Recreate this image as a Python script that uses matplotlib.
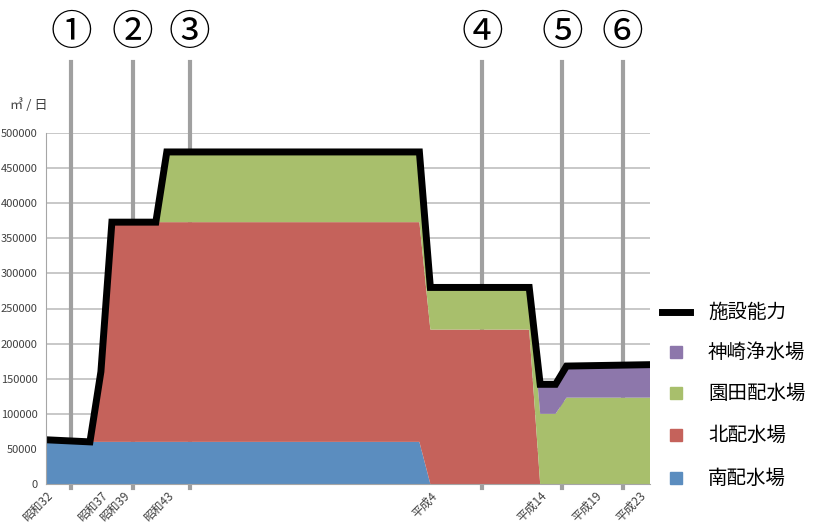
import matplotlib
matplotlib.use("Agg")
import matplotlib.pyplot as plt
from matplotlib.lines import Line2D
from matplotlib.patches import Rectangle

plt.rcParams['font.family'] = ['Noto Sans CJK JP', 'DejaVu Sans']

# breakpoints of the area chart (western years)
years = [1957, 1961, 1962, 1963, 1967, 1968, 1991, 1992, 2001, 2002, 2003.4, 2004.4, 2012]
minami = [60000, 60000, 60000, 60000, 60000, 60000, 60000, 0, 0, 0, 0, 0, 0]
kita = [0, 0, 100000, 313000, 313000, 313000, 313000, 220000, 220000, 0, 0, 0, 0]
sonoda = [0, 0, 0, 0, 0, 100000, 100000, 60000, 60000, 100000, 100000, 123000, 123000]
kanzaki = [0, 0, 0, 0, 0, 0, 0, 0, 0, 42000, 42000, 44000, 44000]
capacity = [63000, 60000, 160000, 373000, 373000, 473000, 473000, 280000, 280000, 142000, 142000, 168000, 170000]

tick_years = [1957, 1962, 1964, 1968, 1992, 2002, 2007, 2011]
tick_labels = ["昭和32", "昭和37", "昭和39", "昭和43", "平成4", "平成14", "平成19", "平成23"]

marker_years = [1959.3, 1964.9, 1970.1, 1996.7, 2004.0, 2009.5]
marker_labels = ["①", "②", "③", "④", "⑤", "⑥"]

series_names = ["南配水場", "北配水場", "園田配水場", "神崎浄水場"]
colors = ["#5b8dbf", "#c5625b", "#a8bf6c", "#8d77ab"]

fig = plt.figure(figsize=(8.13, 5.25), dpi=100)
ax = fig.add_axes([46/813, 41/525, 604/813, 351/525])

ax.stackplot(years, minami, kita, sonoda, kanzaki, colors=colors, zorder=3)
ax.plot(years, capacity, color="black", lw=5, solid_joinstyle="miter", zorder=4)

for x, lab in zip(marker_years, marker_labels):
    ax.plot([x, x], [-6000, 601000], color="#a0a0a0", lw=3, zorder=1, clip_on=False)
    ax.text(x, 642000, lab, ha="center", va="center", fontsize=30, clip_on=False)

ax.set_xlim(1957, 2012)
ax.set_ylim(0, 500000)
ax.set_yticks(range(0, 500001, 50000))
ax.yaxis.grid(True, color="#bfbfbf", lw=1.2)
ax.set_axisbelow(True)
ax.tick_params(axis="y", length=0, labelsize=8, labelcolor="#404040", pad=6)
ax.set_xticks(tick_years)
ax.set_xticklabels(tick_labels, rotation=45, ha="right", va="top", rotation_mode="anchor",
                   fontsize=8.5, color="#404040")
ax.tick_params(axis="x", length=0, pad=4)

for s in ["top", "right"]:
    ax.spines[s].set_visible(False)
for s in ["left", "bottom"]:
    ax.spines[s].set_color("#a6a6a6")
    ax.spines[s].set_zorder(5)

fig.text(10/813, 1 - 105/525, "㎥ / 日", fontsize=9.5, color="#404040", va="center")

# legend drawn by hand
rows = [312, 352, 393, 435, 478]
fig.add_artist(Line2D([662/813, 690/813], [1 - rows[0]/525] * 2, color="black", lw=5))
fig.text(708/813, 1 - rows[0]/525, "施設能力", fontsize=14, va="center", color="#000000")
for y, name, c in zip(rows[1:], series_names[::-1], colors[::-1]):
    fig.add_artist(Rectangle((670/813, 1 - (y + 6)/525), 12/813, 12/525, color=c))
    fig.text(708/813, 1 - y/525, name, fontsize=14, va="center", color="#000000")

fig.savefig("out.png")
